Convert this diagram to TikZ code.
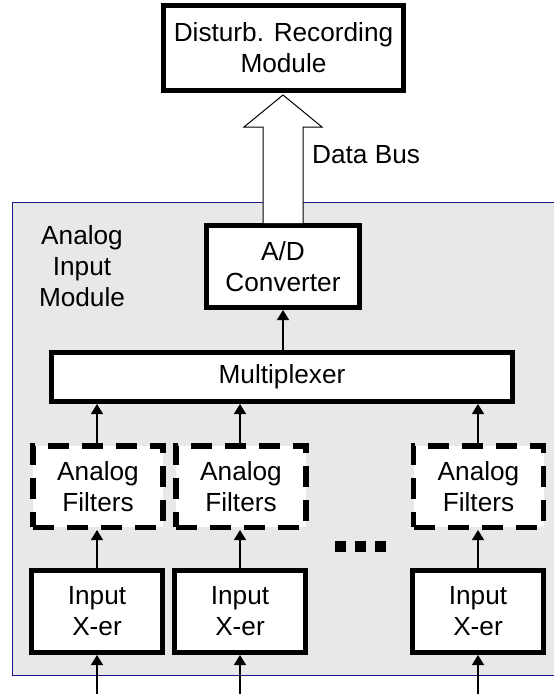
\documentclass[tikz,border=0pt]{standalone}
\usepackage{fontspec}
\setmainfont{Liberation Sans}
\usetikzlibrary{arrows.meta,calc}
\definecolor{panel}{HTML}{E8E8E8}
\definecolor{frame}{HTML}{1A1A88}
\begin{document}
\begin{tikzpicture}[x=1pt,y=-1pt,
  every node/.style={font=\fontsize{26.2}{31}\selectfont, align=center, inner sep=0pt},
  solidbox/.style={draw=black, line width=5pt, fill=white},
  unitbox/.style={solidbox, minimum width=131pt, minimum height=82pt},
  filterbox/.style={draw=black, line width=5.5pt, fill=white,
    dash pattern=on 21pt off 13pt, minimum width=130pt, minimum height=81.5pt},
  sig/.style={line width=1.3pt, -{Triangle[width=12pt,length=10pt]}}]

\useasboundingbox (0,0) rectangle (554,694);
\clip (0,0) rectangle (554,694);

% analog input module panel
\draw[frame, fill=panel, line width=1pt] (12,202) rectangle (580,675);
\node (aimlabel) at (82,266) {Analog\\Input\\Module};

% blocks
\node[solidbox, minimum width=240pt, minimum height=85pt] (drm) at (283.5,48)
  {Disturb. Recording\\Module};
\node[solidbox, minimum width=153pt, minimum height=82pt] (ad) at (283,266.5)
  {A/D\\Converter};
\node[solidbox, minimum width=461pt, minimum height=49pt] (mux) at (282,377)
  {Multiplexer};

\node[filterbox] (f1) at (98,486.5)  {Analog\\Filters};
\node[filterbox] (f2) at (241,486.5) {Analog\\Filters};
\node[filterbox] (f3) at (478.5,486.5) {Analog\\Filters};

\node[unitbox] (x1) at (97,611.5)  {Input\\X-er};
\node[unitbox] (x2) at (240,611.5) {Input\\X-er};
\node[unitbox] (x3) at (478,611.5) {Input\\X-er};

% ellipsis between the channels
\draw[line width=11pt, dash pattern=on 11pt off 9pt] (335,546.5) -- (386,546.5);

% data bus (hollow block arrow)
\coordinate (busx) at (283,0);
\coordinate (b0) at (busx |- ad.north);
\coordinate (b1) at (busx |- drm.south);
\filldraw[draw=black, fill=white, line width=1pt]
  ($(b0)+(-20,0)$) -- ($(b1)+(-20,34)$) -- ($(b1)+(-39,34)$) --
  ($(b1)+(0,2)$) -- ($(b1)+(39,34)$) -- ($(b1)+(20,34)$) -- ($(b0)+(20,0)$);
\node[anchor=west] (buslabel) at (312,155) {Data Bus};

% signal connectors
\draw[sig] (ad.south |- mux.north) -- (ad.south);
\foreach \i in {1,2,3}{
  \draw[sig] (x\i.north |- f\i.north) -- (x\i.north |- mux.south);
  \draw[sig] (x\i.north) -- (x\i.north |- f\i.south);
  \coordinate (in\i) at ($(x\i.south)+(0,60)$);
  \draw[sig] (in\i) -- (x\i.south);
}
\end{tikzpicture}
\end{document}
